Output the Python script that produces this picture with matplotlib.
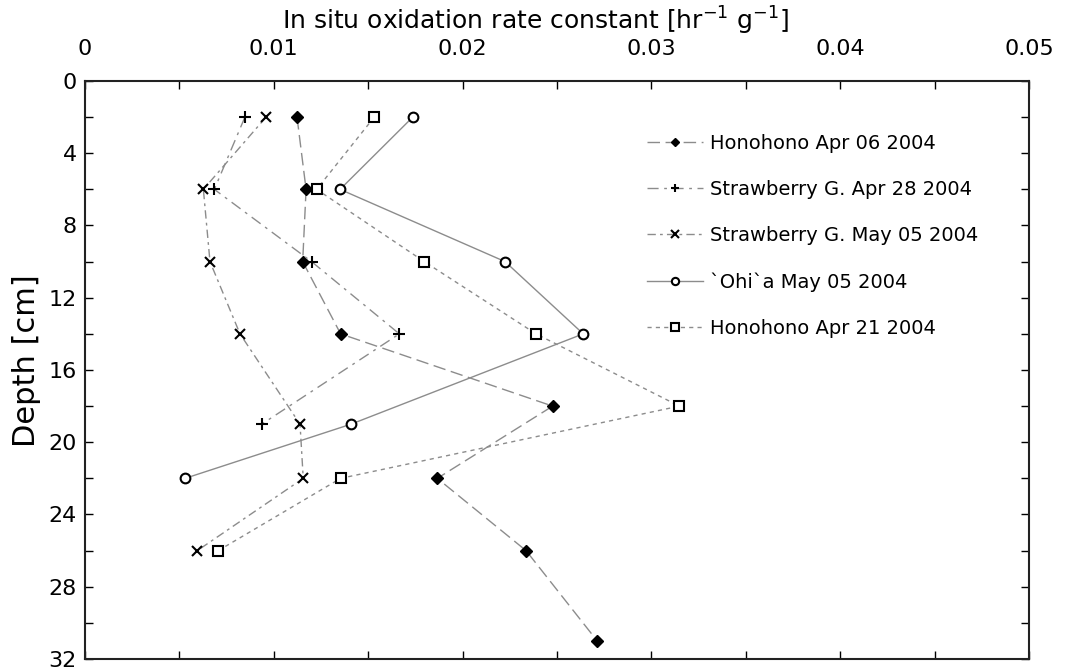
import numpy as np
import matplotlib
matplotlib.use('Agg')
from matplotlib import pyplot as plt
from matplotlib.ticker import MultipleLocator

# 数据：深度 [cm] 与 氧化速率常数
hono_0406_depth = [2, 6, 10, 14, 18, 22, 26, 31]
hono_0406_rate = [0.01123, 0.01171, 0.01153, 0.01354, 0.02477, 0.01866, 0.02336, 0.02713]

straw_0428_depth = [2, 6, 10, 14, 19]
straw_0428_rate = [0.00847, 0.00685, 0.01200, 0.01665, 0.00936]

straw_0505_depth = [2, 6, 10, 14, 19, 22, 26]
straw_0505_rate = [0.00959, 0.00627, 0.00662, 0.00821, 0.01139, 0.01156, 0.00595]

ohia_0505_depth = [2, 6, 10, 14, 19, 22]
ohia_0505_rate = [0.01736, 0.01351, 0.02225, 0.02639, 0.01409, 0.00530]

hono_0421_depth = [2, 6, 10, 14, 18, 22, 26]
hono_0421_rate = [0.01532, 0.01227, 0.01797, 0.02389, 0.03148, 0.01354, 0.00706]

labels = ['Honohono Apr 06 2004', 'Strawberry G. Apr 28 2004',
          'Strawberry G. May 05 2004', '`Ohi`a May 05 2004', 'Honohono Apr 21 2004']

fig = plt.figure(figsize=(10.65, 6.71), dpi=100)
ax = fig.add_axes([0.0798, 0.0179, 0.8864, 0.8614])

lc = '#8c8c8c'
ax.plot(hono_0406_rate, hono_0406_depth, color=lc, lw=1, dashes=(9, 4),
        marker='D', ms=6, mfc='black', mec='black', label=labels[0])
ax.plot(straw_0428_rate, straw_0428_depth, color=lc, lw=1, dashes=(8, 4, 2, 4),
        marker='+', ms=8, mew=1.5, mec='black', label=labels[1])
ax.plot(straw_0505_rate, straw_0505_depth, color=lc, lw=1, dashes=(6, 3, 2, 3),
        marker='x', ms=7, mew=1.5, mec='black', label=labels[2])
ax.plot(ohia_0505_rate, ohia_0505_depth, color=lc, lw=1, ls='-',
        marker='o', ms=7, mfc='white', mec='black', mew=1.5, label=labels[3])
ax.plot(hono_0421_rate, hono_0421_depth, color=lc, lw=1, dashes=(3, 3),
        marker='s', ms=7, mfc='white', mec='black', mew=1.5, label=labels[4])

ax.set_xlim(0, 0.05)
ax.set_ylim(32, 0)
ax.xaxis.tick_top()
ax.xaxis.set_label_position('top')
ax.xaxis.set_major_locator(MultipleLocator(0.01))
ax.xaxis.set_minor_locator(MultipleLocator(0.005))
ax.yaxis.set_major_locator(MultipleLocator(4))
ax.yaxis.set_minor_locator(MultipleLocator(2))
ax.xaxis.set_major_formatter(plt.FuncFormatter(lambda v, p: '0' if v == 0 else '%g' % v))
ax.tick_params(which='both', direction='in', top=True, bottom=True, left=True, right=True,
               labelsize=16, width=1.0)
ax.tick_params(which='major', length=6, pad=16)
ax.tick_params(which='minor', length=6)
ax.tick_params(axis='y', which='major', pad=6)
for s in ax.spines.values():
    s.set_linewidth(1.5)
    s.set_color('#222222')

ax.set_xlabel(r'In situ oxidation rate constant [hr$^{-1}$ g$^{-1}$]', fontsize=18)
ax.xaxis.set_label_coords(0.477, 1.076)
ax.xaxis.label.set_verticalalignment('bottom')
ax.set_ylabel('Depth [cm]', fontsize=22)
ax.yaxis.set_label_coords(-0.047, 0.517)

leg = ax.legend(loc='upper left', bbox_to_anchor=(0.577, 0.939), frameon=False,
                fontsize=14, handlelength=2.85, handletextpad=0.36, labelspacing=1.4,
                markerscale=0.75)

fig.savefig('out.png', dpi=100)
